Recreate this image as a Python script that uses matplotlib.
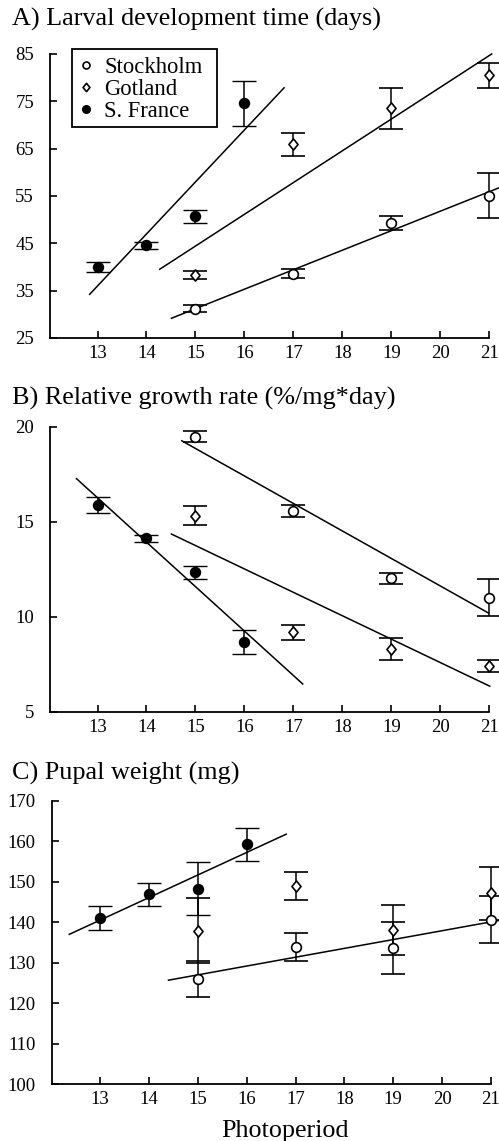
import numpy as np
import matplotlib
matplotlib.use("Agg")
import matplotlib.pyplot as plt
from matplotlib.lines import Line2D
from matplotlib.patches import Rectangle
from matplotlib.path import Path

plt.rcParams['font.family'] = ['Liberation Serif', 'DejaVu Serif']

# ---------------- data ----------------
photo_stock = [15, 17, 19, 21]
photo_got = [15, 17, 19, 21]
photo_fr = [13, 14, 15, 16]

# A) Larval development time (days)
dev_stock = [31.2, 38.6, 49.3, 55.1]
dev_stock_err = [0.8, 0.9, 1.5, 4.75]
dev_got = [38.3, 65.9, 73.5, 80.5]
dev_got_err = [0.9, 2.45, 4.4, 2.7]
dev_fr = [40.0, 44.6, 50.7, 74.6]
dev_fr_err = [1.0, 0.7, 1.35, 4.8]

# B) Relative growth rate (%/mg*day)
rgr_stock = [19.47, 15.56, 12.02, 11.0]
rgr_stock_err = [0.3, 0.3, 0.3, 0.98]
rgr_got = [15.32, 9.18, 8.3, 7.4]
rgr_got_err = [0.5, 0.4, 0.6, 0.3]
rgr_fr = [15.88, 14.12, 12.33, 8.68]
rgr_fr_err = [0.4, 0.2, 0.33, 0.62]

# C) Pupal weight (mg)
pw_stock = [126.0, 133.9, 133.7, 140.6]
pw_stock_err = [4.5, 3.55, 6.45, 5.8]
pw_got = [137.9, 148.9, 138.1, 147.1]
pw_got_err = [8.05, 3.4, 6.2, 6.6]
pw_fr = [141.1, 146.9, 148.3, 159.2]
pw_fr_err = [2.9, 2.9, 6.5, 4.05]

# x extent of each regression line (photoperiod)
fitx_A_stock = [14.51, 21.2]
fitx_A_got = [14.27, 21.05]
fitx_A_fr = [12.84, 16.81]
fitx_B_stock = [14.72, 20.98]
fitx_B_got = [14.51, 21.01]
fitx_B_fr = [12.57, 17.19]
fitx_C_stock = [14.40, 21.17]
fitx_C_fr = [12.37, 16.81]

xticks = [13, 14, 15, 16, 17, 18, 19, 20, 21]
yticks_A = [25, 35, 45, 55, 65, 75, 85]
yticks_B = [5, 10, 15, 20]
yticks_C = [100, 110, 120, 130, 140, 150, 160, 170]

titles = ["A) Larval development time (days)",
          "B) Relative growth rate (%/mg*day)",
          "C) Pupal weight (mg)"]
labels = ["Stockholm", "Gotland", "S. France"]

# ---------------- figure ----------------
W, H = 499, 1141
fig = plt.figure(figsize=(W / 100, H / 100), dpi=100)

def rect(l, r, t, b):
    return [l / W, 1 - b / H, (r - l) / W, (b - t) / H]

axA = fig.add_axes(rect(50, 489.3, 54, 338))
axB = fig.add_axes(rect(50, 489.3, 426.7, 711.7))
axC = fig.add_axes(rect(51.7, 491, 800.7, 1084.3))

diamond = Path([(0, 1), (0.82, 0), (0, -1), (-0.82, 0), (0, 1)],
               [Path.MOVETO, Path.LINETO, Path.LINETO, Path.LINETO, Path.CLOSEPOLY])

common = dict(ecolor='black', elinewidth=1.1, capsize=8.6, capthick=1.5,
              linestyle='none', clip_on=False, zorder=3)

def series(ax, x, y, e, kind):
    if kind == 'stock':
        ax.errorbar(x, y, yerr=e, marker='o', ms=7, mfc='white', mec='black',
                    mew=1.2, **common)
    elif kind == 'got':
        ax.errorbar(x, y, yerr=e, marker=diamond, ms=8, mfc='white', mec='black',
                    mew=1.2, **common)
    else:
        ax.errorbar(x, y, yerr=e, marker='o', ms=7.2, mfc='black', mec='black',
                    mew=1.0, **common)

def fitline(ax, x, y, xr):
    coef = np.polyfit(x, y, 1)
    xx = np.array(xr)
    ax.plot(xx, np.polyval(coef, xx), color='black', lw=1.1, zorder=2,
            clip_on=False)

def style(ax, ylim, yticks):
    ax.set_xlim(12.03, 21.0)
    ax.set_ylim(*ylim)
    ax.set_xticks(xticks)
    ax.set_yticks(yticks)
    for s in ['top', 'right']:
        ax.spines[s].set_visible(False)
    for s in ['left', 'bottom']:
        ax.spines[s].set_linewidth(1.3)
    ax.tick_params(axis='both', direction='in', length=4.8, width=1.2,
                   labelsize=13.5)
    ax.tick_params(axis='y', pad=11.5)
    ax.tick_params(axis='x', pad=5.0)

# Panel A
series(axA, photo_stock, dev_stock, dev_stock_err, 'stock')
series(axA, photo_got, dev_got, dev_got_err, 'got')
series(axA, photo_fr, dev_fr, dev_fr_err, 'fr')
fitline(axA, photo_stock, dev_stock, fitx_A_stock)
fitline(axA, photo_got, dev_got, fitx_A_got)
fitline(axA, photo_fr, dev_fr, fitx_A_fr)
style(axA, (25, 85), yticks_A)

# Panel B
series(axB, photo_stock, rgr_stock, rgr_stock_err, 'stock')
series(axB, photo_got, rgr_got, rgr_got_err, 'got')
series(axB, photo_fr, rgr_fr, rgr_fr_err, 'fr')
fitline(axB, photo_stock, rgr_stock, fitx_B_stock)
fitline(axB, photo_got, rgr_got, fitx_B_got)
fitline(axB, photo_fr, rgr_fr, fitx_B_fr)
style(axB, (5, 20), yticks_B)

# Panel C
series(axC, photo_stock, pw_stock, pw_stock_err, 'stock')
series(axC, photo_got, pw_got, pw_got_err, 'got')
series(axC, photo_fr, pw_fr, pw_fr_err, 'fr')
fitline(axC, photo_stock, pw_stock, fitx_C_stock)
fitline(axC, photo_fr, pw_fr, fitx_C_fr)
style(axC, (100, 170), yticks_C)
axC.set_xlim(12.01, 21.0)

# Legend (entries without frame, frame drawn as a separate box)
handles = [
    Line2D([], [], marker='o', ls='none', ms=5, mfc='white', mec='black', mew=1.2),
    Line2D([], [], marker=diamond, ls='none', ms=6, mfc='white', mec='black', mew=1.2),
    Line2D([], [], marker='o', ls='none', ms=5.5, mfc='black', mec='black'),
]
leg = axA.legend(handles, labels, loc='upper left', bbox_to_anchor=(0.0665, 0.9905),
                 borderaxespad=0, fontsize=16.3, frameon=False, borderpad=0,
                 handlelength=0.6, handletextpad=0.5, labelspacing=0.04)
axA.add_patch(Rectangle((0.0492, 0.7416), 0.3301, 0.2760, transform=axA.transAxes,
                        fill=False, edgecolor='black', lw=1.3, clip_on=False,
                        zorder=4))

# Titles
fig.text(11.7 / W, 1 - 26 / H, titles[0], fontsize=18.8, va='baseline', ha='left')
fig.text(11.7 / W, 1 - 405 / H, titles[1], fontsize=18.8, va='baseline', ha='left')
fig.text(11.7 / W, 1 - 779.5 / H, titles[2], fontsize=18.8, va='baseline', ha='left')
fig.text(285 / W, 1 - 1137 / H, "Photoperiod", fontsize=18.8, va='baseline', ha='center')

fig.savefig("out.png", dpi=100)
